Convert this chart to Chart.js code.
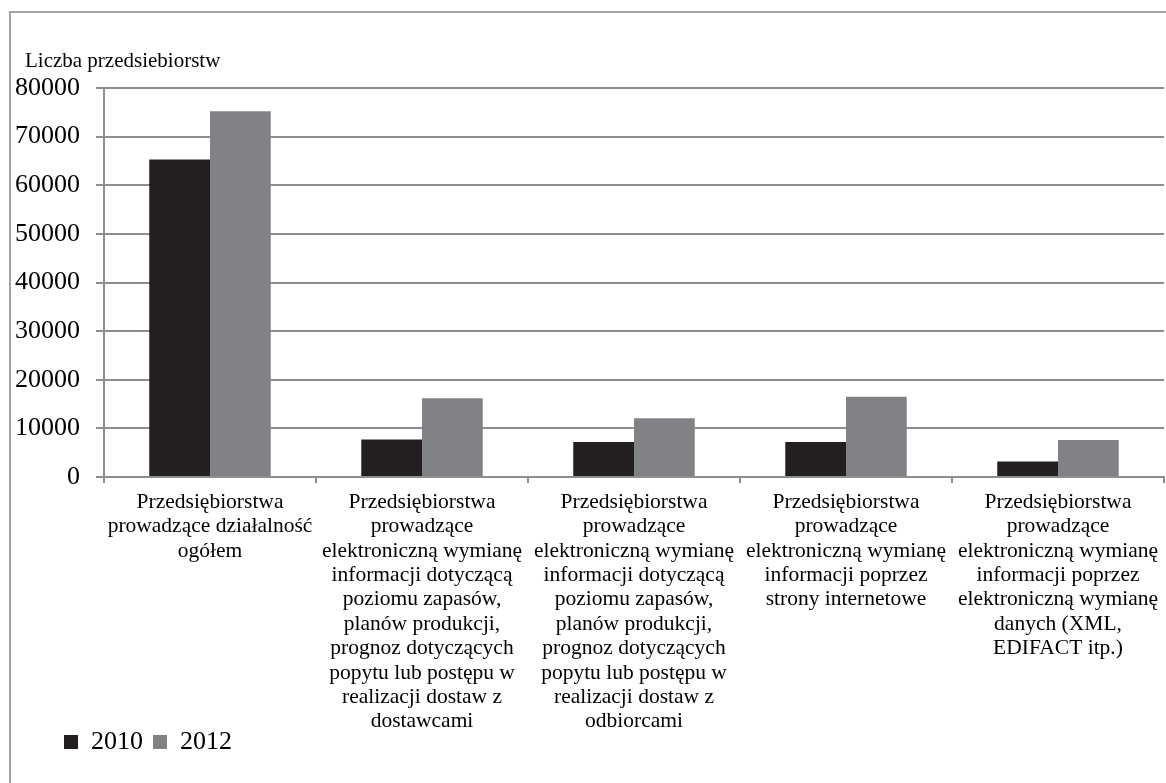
<!DOCTYPE html>
<html>
<head>
<meta charset="utf-8">
<script src="https://cdn.jsdelivr.net/npm/chart.js@4"></script>
<style>
  html, body { margin: 0; padding: 0; background: #fff; }
  #wrap { width: 1166px; height: 783px; }
</style>
</head>
<body>
<div id="wrap"><canvas id="chart" width="1166" height="783"></canvas></div>
<script>
const categories = [
  ['Przedsiębiorstwa', 'prowadzące działalność', 'ogółem'],
  ['Przedsiębiorstwa', 'prowadzące', 'elektroniczną wymianę', 'informacji dotyczącą', 'poziomu zapasów,', 'planów produkcji,', 'prognoz dotyczących', 'popytu lub postępu w', 'realizacji dostaw z', 'dostawcami'],
  ['Przedsiębiorstwa', 'prowadzące', 'elektroniczną wymianę', 'informacji dotyczącą', 'poziomu zapasów,', 'planów produkcji,', 'prognoz dotyczących', 'popytu lub postępu w', 'realizacji dostaw z', 'odbiorcami'],
  ['Przedsiębiorstwa', 'prowadzące', 'elektroniczną wymianę', 'informacji poprzez', 'strony internetowe'],
  ['Przedsiębiorstwa', 'prowadzące', 'elektroniczną wymianę', 'informacji poprzez', 'elektroniczną wymianę', 'danych (XML,', 'EDIFACT itp.)']
];
const values2010 = [65300, 7700, 7200, 7200, 3200];
const values2012 = [75200, 16200, 12100, 16500, 7600];
const seriesNames = ['2010', '2012'];
const yTicks = [0, 10000, 20000, 30000, 40000, 50000, 60000, 70000, 80000];
const axisCaption = 'Liczba przedsiebiorstw';

const serif = 'Liberation Serif';
const gridColor = '#8e8e90';

// frame around the chart, caption above the value axis,
// and the legend moved in a bit so it sits like the original
const framePlugin = {
  id: 'frame',
  afterLayout(chart) {
    const lg = chart.legend;
    if (lg) {
      const h = lg.height;
      lg.left = 54;
      lg.top = 719;
      lg.bottom = lg.top + h;
    }
  },
  afterDraw(chart) {
    const ctx = chart.ctx;
    ctx.save();
    ctx.strokeStyle = '#a3a3a3';
    ctx.lineWidth = 2;
    ctx.beginPath();
    ctx.moveTo(1166, 12);
    ctx.lineTo(10, 12);
    ctx.lineTo(10, 783);
    ctx.stroke();
    ctx.fillStyle = '#000';
    ctx.font = '21px "' + serif + '"';
    ctx.textBaseline = 'alphabetic';
    ctx.fillText(axisCaption, 25, 67);
    ctx.restore();
  }
};

new Chart(document.getElementById('chart'), {
  type: 'bar',
  data: {
    labels: categories,
    datasets: [
      { label: seriesNames[0], data: values2010, backgroundColor: '#231f20' },
      { label: seriesNames[1], data: values2012, backgroundColor: '#808285' }
    ]
  },
  options: {
    responsive: false,
    animation: false,
    devicePixelRatio: 1,
    categoryPercentage: 0.573,
    barPercentage: 1,
    layout: { padding: { left: 0, top: 88, right: 2, bottom: 0 } },
    scales: {
      x: {
        grid: { offset: true, drawOnChartArea: false, drawTicks: true, tickLength: 6, color: gridColor, lineWidth: 2 },
        border: { color: gridColor, width: 2 },
        ticks: {
          color: '#000',
          font: { family: serif, size: 21.5, lineHeight: '24.4px' },
          padding: 7,
          maxRotation: 0,
          autoSkip: false
        },
        afterFit(scale) { scale.height = 260; }
      },
      y: {
        min: 0,
        max: 80000,
        afterBuildTicks(scale) { scale.ticks = yTicks.map(v => ({ value: v })); },
        grid: { color: gridColor, lineWidth: 2, tickLength: 8 },
        border: { color: gridColor, width: 2 },
        ticks: {
          color: '#000',
          font: { family: serif, size: 26 },
          padding: 16,
          callback: v => String(v)
        },
        afterFit(scale) { scale.width = 104; }
      }
    },
    plugins: {
      legend: {
        position: 'bottom',
        align: 'start',
        labels: {
          color: '#000',
          font: { family: serif, size: 26 },
          boxWidth: 14,
          boxHeight: 14,
          padding: 10
        }
      },
      tooltip: { enabled: false }
    }
  },
  plugins: [framePlugin]
});
</script>
</body>
</html>
